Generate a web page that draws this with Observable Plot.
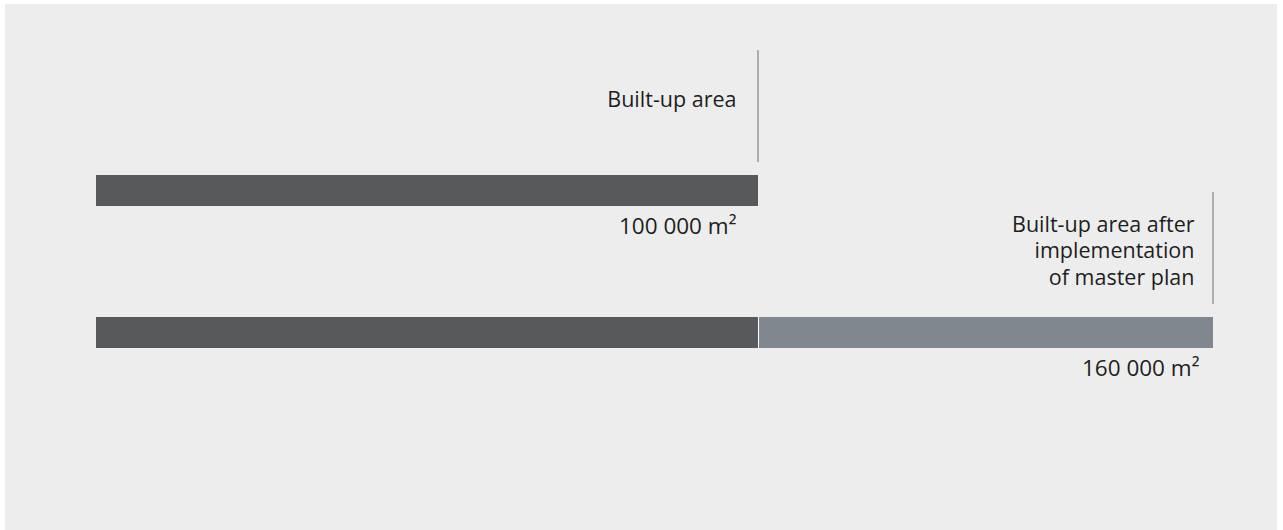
<!DOCTYPE html>
<html>
<head>
<meta charset="utf-8">
<script src="https://cdn.jsdelivr.net/npm/d3@7"></script>
<script src="https://cdn.jsdelivr.net/npm/@observablehq/plot@0.6"></script>
<style>
  html, body { margin: 0; padding: 0; background: #ffffff; }
  #frame { position: absolute; left: 5px; top: 4px; width: 1272px; height: 526px; background: #ededed; }
  svg { display: block; }
</style>
</head>
<body>
<div id="frame"></div>
<script>
// ---- data ----
const categories = ["Built-up area", "Built-up area after\nimplementation\nof master plan"];
const existingArea = [100000, 100000];   // m², existing built-up area
const totalArea = [100000, 160000];      // m², total built-up area
const valueLabels = ["100 000 m²", "160 000 m²"];
const scaleBreaks = [0, 100000, 160000];  // drawn scale breakpoints (graphic not to scale)

// ---- derived tables ----
const segments = [];
categories.forEach((c, i) => {
  segments.push({cat: c, x1: 0, x2: existingArea[i], kind: "existing"});
  if (totalArea[i] > existingArea[i]) segments.push({cat: c, x1: existingArea[i], x2: totalArea[i], kind: "added"});
});
const rows = categories.map((c, i) => ({cat: c, total: totalArea[i], existing: existingArea[i], value: valueLabels[i]}));
const splits = rows.filter(r => r.total > r.existing);

const font = "'Open Sans', sans-serif";

const chart = Plot.plot({
  width: 1272,
  height: 526,
  margin: 0,
  style: {background: "transparent", fontFamily: font},
  x: {type: "linear", domain: scaleBreaks, range: [91, 753, 1208], axis: null},
  y: {domain: categories, range: [171, 344], paddingInner: 0.782, paddingOuter: 0, axis: null},
  color: {domain: ["existing", "added"], range: ["#58595b", "#80878e"]},
  marks: [
    Plot.barX(segments, {y: "cat", x1: "x1", x2: "x2", fill: "kind"}),
    Plot.ruleX(splits, {y1: "cat", y2: "cat", x: "existing", stroke: "#ffffff", strokeWidth: 1}),
    Plot.ruleX(rows, {y1: "cat", y2: "cat", x: "total", dx: -0.5, stroke: "#8c8c8c", strokeWidth: 1.3, insetTop: -125, insetBottom: 44}),
    Plot.text(rows.slice(0, 1), {y: "cat", x: "total", text: "cat", textAnchor: "end", lineAnchor: "middle", dx: -22, dy: -92, fontSize: 21.5, fill: "#1e1e1e", lineHeight: 1.23}),
    Plot.text(rows.slice(1), {y: "cat", x: "total", text: "cat", textAnchor: "end", lineAnchor: "middle", dx: -19, dy: -83, fontSize: 21.5, fill: "#1e1e1e", lineHeight: 1.23}),
    Plot.text(rows.slice(0, 1), {y: "cat", x: "total", text: "value", textAnchor: "end", lineAnchor: "middle", dx: -22, dy: 36, fontSize: 22.5, fill: "#1e1e1e"}),
    Plot.text(rows.slice(1), {y: "cat", x: "total", text: "value", textAnchor: "end", lineAnchor: "middle", dx: -14, dy: 36, fontSize: 22.5, fill: "#1e1e1e"})
  ]
});
document.getElementById("frame").appendChild(chart);
</script>
</body>
</html>
